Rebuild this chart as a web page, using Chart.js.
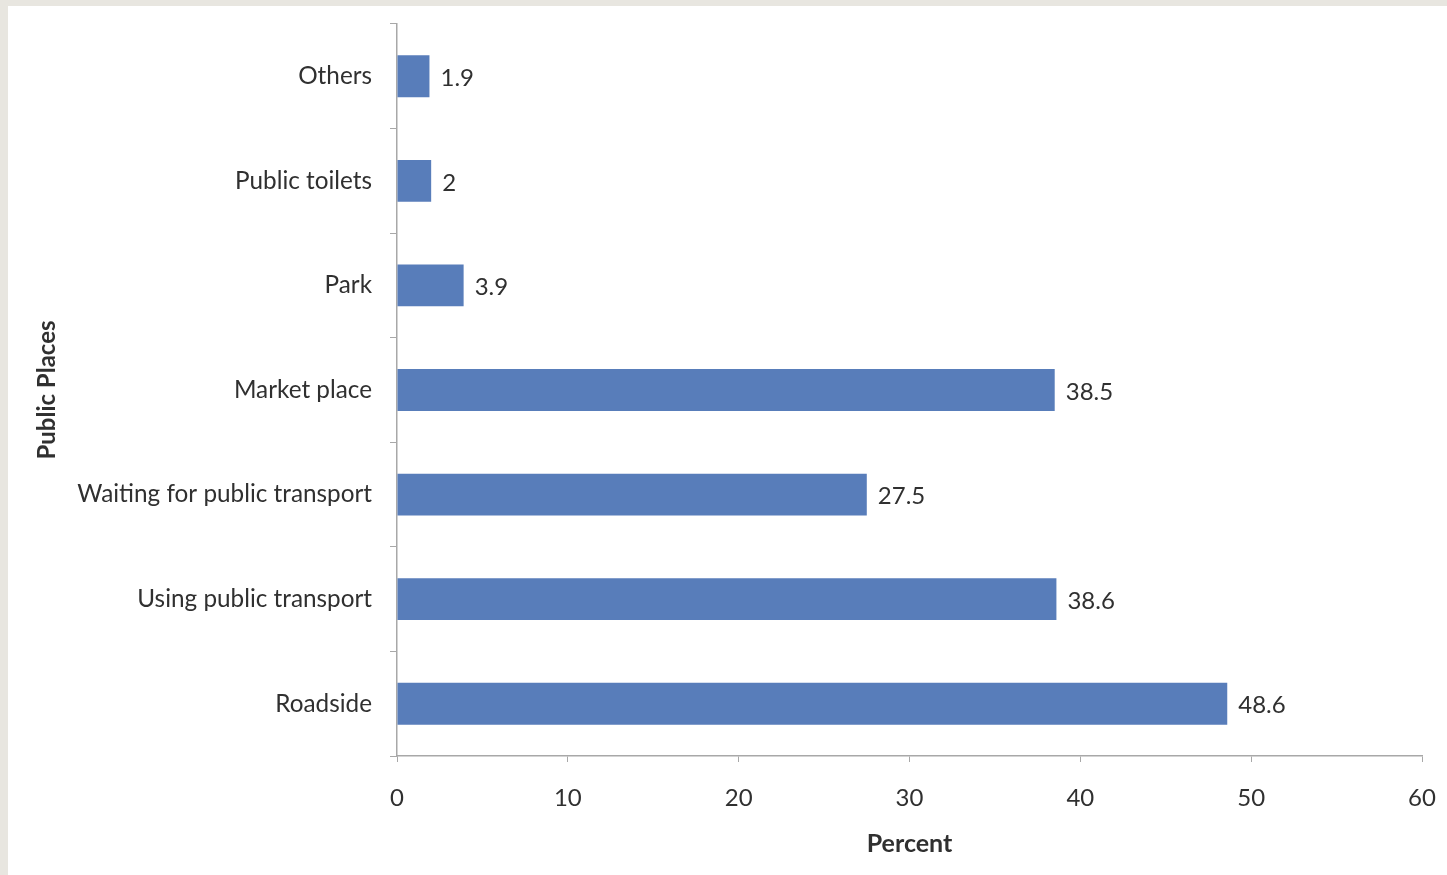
<!DOCTYPE html>
<html>
<head>
<meta charset="utf-8">
<script src="https://cdn.jsdelivr.net/npm/chart.js@4"></script>
<style>
  html, body { margin: 0; padding: 0; background: #e8e6e0; overflow: hidden; }
  canvas { display: block; }
</style>
</head>
<body>
<canvas id="chart" width="1447" height="875"></canvas>
<script>
const PLACES  = ['Others', 'Public toilets', 'Park', 'Market place',
                 'Waiting for public transport', 'Using public transport', 'Roadside'];
const PERCENT = [1.9, 2, 3.9, 38.5, 27.5, 38.6, 48.6];
const X_TICKS = [0, 10, 20, 30, 40, 50, 60];

const FONT     = 'Lato, "Liberation Sans", sans-serif';
const TXT      = '#303030';
const AXIS     = '#a8a8a8';
const BAR      = '#587dba';

// paints the page frame: grey edge + white sheet
const framePlugin = {
  id: 'frame',
  beforeDraw(chart) {
    const { ctx, width, height } = chart;
    ctx.save();
    ctx.fillStyle = '#e8e6e0';
    ctx.fillRect(0, 0, width, height);
    ctx.fillStyle = '#ffffff';
    ctx.fillRect(8, 6, width - 8, height - 6);
    ctx.restore();
  }
};

// value labels right of each bar
const valueLabels = {
  id: 'valueLabels',
  afterDatasetsDraw(chart) {
    const { ctx } = chart;
    const meta = chart.getDatasetMeta(0);
    ctx.save();
    ctx.font = '24px ' + FONT;
    ctx.fillStyle = TXT;
    ctx.textAlign = 'left';
    ctx.textBaseline = 'middle';
    meta.data.forEach((bar, i) => {
      ctx.fillText(String(PERCENT[i]), bar.x + 11, bar.y + 2);
    });
    ctx.restore();
  }
};

// drop the label overflow padding so layout.padding sets the plot box
const noOverflow = (s) => {
  s.paddingTop = 0; s.paddingBottom = 0;
  s.paddingLeft = 0; s.paddingRight = 0;
};

new Chart(document.getElementById('chart'), {
  type: 'bar',
  data: {
    labels: PLACES,
    datasets: [{
      data: PERCENT,
      backgroundColor: BAR,
      borderWidth: 0,
      barPercentage: 0.4,
      categoryPercentage: 1
    }]
  },
  options: {
    indexAxis: 'y',
    responsive: false,
    animation: false,
    events: [],
    layout: { padding: { left: 0, top: 24, right: 25, bottom: 0 } },
    plugins: {
      legend: { display: false },
      tooltip: { enabled: false }
    },
    scales: {
      x: {
        min: 0,
        max: 60,
        afterBuildTicks: (s) => { s.ticks = X_TICKS.map(v => ({ value: v })); },
        afterFit: (s) => { s.height = 119; noOverflow(s); },
        border: { color: AXIS, width: 1.5 },
        grid: { drawOnChartArea: false, drawTicks: true, tickLength: 6, color: AXIS },
        ticks: { padding: 22, color: TXT, font: { family: FONT, size: 24 } },
        title: {
          display: true, text: 'Percent', color: TXT,
          font: { family: FONT, size: 25, weight: 'bold' },
          padding: { top: 0, bottom: 16 }
        }
      },
      y: {
        afterFit: (s) => { s.width = 397; noOverflow(s); },
        border: { color: AXIS, width: 1.5 },
        grid: { drawOnChartArea: false, drawTicks: true, tickLength: 7, color: AXIS, offset: true },
        ticks: { padding: 18, color: TXT, font: { family: FONT, size: 24.3 } },
        title: {
          display: true, text: 'Public Places', color: TXT,
          font: { family: FONT, size: 24, weight: 'bold' },
          padding: { top: 33, bottom: 0 }
        }
      }
    }
  },
  plugins: [framePlugin, valueLabels]
});
</script>
</body>
</html>
